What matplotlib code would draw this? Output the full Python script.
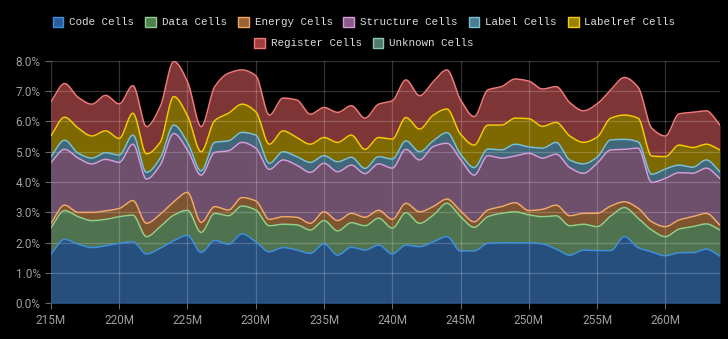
import numpy as np
import matplotlib
matplotlib.use("Agg")
import matplotlib.pyplot as plt
from matplotlib.patches import Patch

# ---------------- data ----------------
x_m = list(range(215, 265))  # millions

code = [1.63, 2.11, 1.95, 1.84, 1.90, 1.98, 2.03, 1.63, 1.82, 2.07,
        2.24, 1.68, 2.07, 1.95, 2.29, 2.03, 1.70, 1.84, 1.76, 1.65,
        1.96, 1.59, 1.85, 1.76, 1.92, 1.63, 1.92, 1.87, 2.03, 2.20,
        1.73, 1.73, 1.98, 2.00, 2.00, 2.00, 1.96, 1.79, 1.59, 1.76,
        1.74, 1.74, 2.20, 1.84, 1.70, 1.57, 1.67, 1.67, 1.79, 1.56]
data = [0.87, 0.95, 0.91, 0.89, 0.87, 0.88, 0.88, 0.57, 0.71, 0.84,
        0.83, 0.66, 0.90, 0.94, 0.92, 1.05, 0.86, 0.77, 0.83, 0.77,
        0.77, 0.80, 0.81, 0.80, 0.89, 0.85, 1.07, 0.77, 0.88, 1.10,
        1.13, 0.78, 0.88, 0.97, 1.02, 0.92, 0.90, 1.10, 0.97, 0.85,
        0.79, 1.14, 0.96, 0.97, 0.72, 0.63, 0.78, 0.86, 0.83, 0.86]
energy = [0.14, 0.18, 0.14, 0.27, 0.28, 0.27, 0.48, 0.44, 0.41, 0.44,
          0.59, 0.33, 0.22, 0.19, 0.28, 0.30, 0.21, 0.25, 0.25, 0.22,
          0.29, 0.34, 0.31, 0.28, 0.26, 0.29, 0.31, 0.38, 0.28, 0.14,
          0.19, 0.18, 0.22, 0.22, 0.30, 0.14, 0.24, 0.35, 0.33, 0.36,
          0.44, 0.33, 0.19, 0.33, 0.27, 0.33, 0.30, 0.33, 0.35, 0.16]
structure = [2.01, 1.84, 1.79, 1.60, 1.70, 1.52, 1.86, 1.46, 1.62, 2.25,
             1.40, 1.56, 1.79, 1.95, 1.82, 1.74, 1.65, 1.87, 1.72, 1.68,
             1.60, 1.61, 1.59, 1.44, 1.53, 1.69, 1.78, 1.71, 1.98, 1.84,
             1.70, 1.54, 1.79, 1.60, 1.54, 1.89, 1.69, 1.68, 1.59, 1.32,
             1.65, 1.85, 1.73, 1.98, 1.30, 1.59, 1.56, 1.43, 1.49, 1.54]
label = [0.19, 0.30, 0.16, 0.19, 0.22, 0.24, 0.30, 0.22, 0.23, 0.28,
         0.25, 0.14, 0.33, 0.33, 0.33, 0.43, 0.20, 0.27, 0.28, 0.33,
         0.25, 0.33, 0.26, 0.17, 0.24, 0.30, 0.28, 0.27, 0.19, 0.35,
         0.17, 0.25, 0.22, 0.27, 0.39, 0.21, 0.33, 0.39, 0.25, 0.31,
         0.20, 0.33, 0.33, 0.21, 0.27, 0.31, 0.25, 0.20, 0.27, 0.22]
labelref = [0.69, 0.76, 0.83, 0.73, 0.72, 0.55, 0.72, 0.61, 0.52, 0.94,
            0.88, 0.63, 0.72, 0.91, 0.93, 0.77, 0.63, 0.69, 0.63, 0.60,
            0.60, 0.64, 0.73, 0.63, 0.63, 0.66, 0.77, 0.75, 0.85, 0.78,
            0.66, 0.74, 0.79, 0.82, 0.86, 0.93, 0.72, 0.66, 0.79, 0.71,
            0.66, 0.72, 0.80, 0.78, 0.60, 0.41, 0.66, 0.65, 0.52, 0.72]
register = [1.12, 1.11, 1.01, 1.05, 1.17, 1.14, 0.91, 0.90, 1.18, 1.16,
            1.12, 0.83, 1.12, 1.32, 1.13, 1.19, 0.96, 1.08, 1.24, 0.99,
            0.99, 0.99, 0.97, 1.03, 1.10, 1.26, 1.24, 1.10, 1.10, 1.29,
            1.13, 0.94, 1.16, 1.27, 1.29, 1.24, 1.23, 1.18, 1.10, 1.04,
            1.10, 0.93, 1.24, 1.02, 0.92, 0.68, 1.03, 1.16, 1.10, 0.82]
unknown = [0.0] * 50

series_names = ["Code Cells", "Data Cells", "Energy Cells", "Structure Cells",
                "Label Cells", "Labelref Cells", "Register Cells", "Unknown Cells"]
series_values = [code, data, energy, structure, label, labelref, register, unknown]
fill_colors = ["#264f7e", "#50734f", "#7d5530", "#6e4f6c",
               "#41687a", "#7d6900", "#7e3535", "#4c7266"]
line_colors = ["#3d8fe0", "#8ed08a", "#f0a868", "#d89ad6",
               "#78c0dc", "#f2cc00", "#f07878", "#8cc8b0"]
swatch_colors = ["#2a5d9c", "#4f7e4f", "#9a6331", "#8a5a8a",
                 "#4c7d90", "#9a8200", "#a03c3c", "#4f7a6c"]
x_ticks = [215, 220, 225, 230, 235, 240, 245, 250, 255, 260]
y_ticks = [0, 1, 2, 3, 4, 5, 6, 7, 8]


def monotone(x, y, xs):
    x = np.asarray(x, float)
    y = np.asarray(y, float)
    h = np.diff(x)
    d = np.diff(y) / h
    m = np.zeros_like(y)
    m[0], m[-1] = d[0], d[-1]
    for i in range(1, len(y) - 1):
        if d[i - 1] * d[i] <= 0:
            m[i] = 0
        else:
            w1 = 2 * h[i] + h[i - 1]
            w2 = h[i] + 2 * h[i - 1]
            m[i] = (w1 + w2) / (w1 / d[i - 1] + w2 / d[i])
    idx = np.clip(np.searchsorted(x, xs) - 1, 0, len(x) - 2)
    t = (xs - x[idx]) / h[idx]
    h00 = 2 * t**3 - 3 * t**2 + 1
    h10 = t**3 - 2 * t**2 + t
    h01 = -2 * t**3 + 3 * t**2
    h11 = t**3 - t**2
    return (h00 * y[idx] + h10 * h[idx] * m[idx] +
            h01 * y[idx + 1] + h11 * h[idx] * m[idx + 1])


fig = plt.figure(figsize=(7.28, 3.39), dpi=100, facecolor="black")
ax = fig.add_axes([0.070, 0.105, 0.919, 0.7156])
ax.set_facecolor("black")

xs = np.linspace(x_m[0], x_m[-1], 1500)
cum = np.zeros(len(x_m))
prev_s = np.zeros_like(xs)
for i, vals in enumerate(series_values):
    cum = cum + np.asarray(vals)
    top_s = monotone(x_m, cum, xs)
    ax.fill_between(xs, prev_s, top_s, color=fill_colors[i], lw=0, zorder=1)
    if any(v > 0 for v in vals):
        ax.plot(xs, top_s, color=line_colors[i], lw=1.1, zorder=3)
    prev_s = top_s

ax.set_xlim(x_m[0], x_m[-1])
ax.set_ylim(0, 8)
ax.set_xticks(x_ticks)
ax.set_xticklabels([f"{t}M" for t in x_ticks])
ax.set_yticks(y_ticks)
ax.set_yticklabels([f"{t:.1f}%" for t in y_ticks])
ax.grid(True, color="white", alpha=0.2, lw=0.9, zorder=2)
ax.set_axisbelow(False)
for s in ax.spines.values():
    s.set_visible(False)
ax.tick_params(colors="#666666", labelcolor="#a0a0a0", length=4, width=0.8,
               labelsize=8.5)
for lab in ax.get_xticklabels() + ax.get_yticklabels():
    lab.set_family("Roboto")

handles = [Patch(facecolor=swatch_colors[i], edgecolor=line_colors[i], lw=1.0,
                 label=series_names[i]) for i in range(8)]
leg_kw = dict(frameon=False, prop={"family": "Liberation Mono", "size": 7.8},
              labelcolor="#dddddd", handlelength=1.0, handleheight=1.1,
              handletextpad=0.55, columnspacing=1.0, borderaxespad=0)
leg1 = fig.legend(handles=handles[:6], ncol=6, loc="center",
                  bbox_to_anchor=(0.5, 1 - 22 / 339), **leg_kw)
leg2 = fig.legend(handles=handles[6:], ncol=2, loc="center",
                  bbox_to_anchor=(0.5, 1 - 43 / 339), **leg_kw)

fig.savefig("out.png", dpi=100, facecolor="black")
